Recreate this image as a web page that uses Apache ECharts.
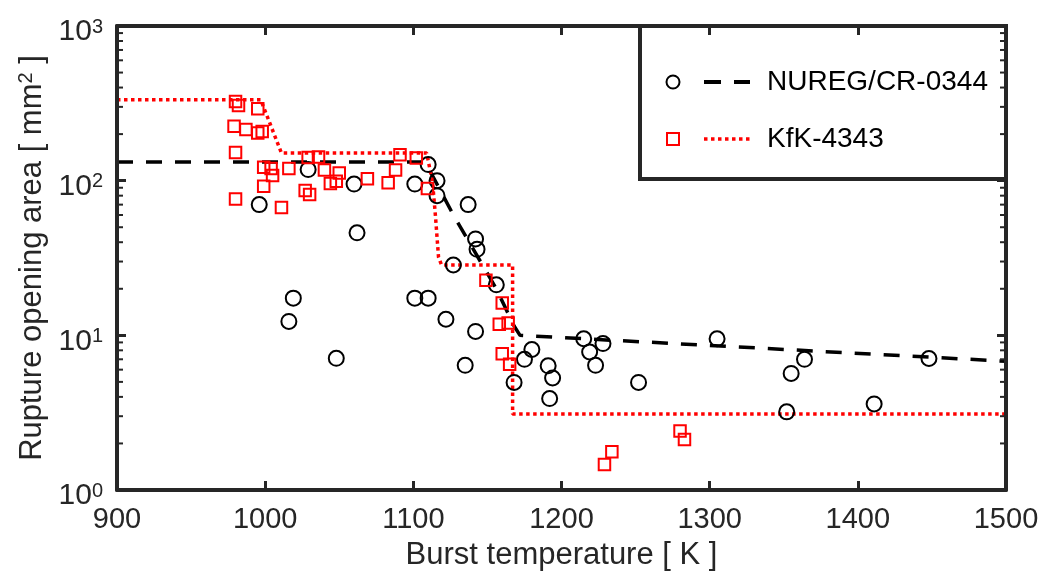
<!DOCTYPE html>
<html><head><meta charset="utf-8">
<script src="https://cdn.jsdelivr.net/npm/echarts@6/dist/echarts.min.js"></script>
<style>html,body{margin:0;padding:0;background:#fff}#c{width:1043px;height:579px}</style>
</head><body><div id="c"></div>
<script>
// ---- data ----
const nuregT    = [996,1029,1060,1062,1019,1016,1048,1101,1110,1116,1116,1101,1110,1122,1127,1137,1142,1143,1142,1135,1156,1180,1175,1168,1191,1194,1192,1215,1228,1219,1223,1252,1305,1364,1355,1352,1411,1448];
const nuregArea = [70,118,95,46,17.4,12.3,7.1,95,127,100,80,17.4,17.4,12.7,28.5,70,42,36,10.6,6.4,21.2,8.1,7.0,4.96,6.35,5.3,3.9,9.5,8.85,7.8,6.4,4.96,9.5,7.0,5.67,3.2,3.6,7.08];
const kfkT      = [980,982,995,979,987,995,998,980,999,1004,1005,1016,999,980,1011,1029,1036,1040,1027,1030,1044,1048,1050,1069,1083,1088,1091,1102,1109.5,1149,1160,1158,1164,1160,1165,1280,1283,1234,1229];
const kfkArea   = [325,306,292,225,214,203,208,152,122,120,108,120,92,76,67,141,142,117,86.5,81.5,95.7,99,112,103,97,117,147,140,89,22.7,16.2,11.8,12.0,7.6,6.5,2.41,2.12,1.77,1.46];
const nuregFitT    = [900,1108,1127,1156,1168,1172,1500];
const nuregFitArea = [132,132,60,20,11.5,10,6.8];
const kfkFitT      = [900,997,1011,1109,1113,1115,1117,1119,1167,1167,1500];
const kfkFitArea   = [333,333,151,151,97,58,32,28.5,28.5,3.1,3.1];
const xTicks = [900,1000,1100,1200,1300,1400,1500];
const yTickExponents = ['0','1','2','3'];
const minorTickValues = [2,3,4,5,6,7,8,9,20,30,40,50,60,70,80,90,200,300,400,500,600,700,800,900];
const legendNames = ['NUREG/CR-0344','KfK-4343'];
const xAxisTitle = 'Burst temperature [ K ]';
const yAxisTitleParts = ['Rupture opening area [ mm', '2', ' ]'];

const zip = (a, b) => a.map((v, i) => [v, b[i]]);
const FONT = 'Liberation Sans, Arial, Helvetica, sans-serif';
const TXT = '#262626';
const AX = '#262626';

const chart = echarts.init(document.getElementById('c'), null, {renderer: 'canvas'});
const axLine = {show: true, lineStyle: {color: AX, width: 4}};
const axTick = {show: true, inside: true, length: 9, lineStyle: {color: AX, width: 3}};

const option = {
  animation: false,
  backgroundColor: '#fff',
  grid: {left: 117, right: 37, top: 26, bottom: 89, containLabel: false},
  xAxis: [
    {type: 'value', min: xTicks[0], max: xTicks[xTicks.length - 1], interval: 100, position: 'bottom', z: 10,
     axisLine: axLine, axisTick: axTick, splitLine: {show: false},
     axisLabel: {show: true, margin: 15, color: TXT, fontFamily: FONT, fontSize: 29, lineHeight: 30,
       formatter: v => String(v)},
     name: xAxisTitle, nameLocation: 'middle', nameGap: 47,
     nameTextStyle: {color: TXT, fontFamily: FONT, fontSize: 31, lineHeight: 30}},
    {type: 'value', min: xTicks[0], max: xTicks[xTicks.length - 1], interval: 100, position: 'top', z: 10,
     axisLine: axLine, axisTick: axTick, splitLine: {show: false}, axisLabel: {show: false}}
  ],
  yAxis: [
    {type: 'log', logBase: 10, min: 1, max: 1000, position: 'left', z: 10,
     axisLine: axLine, axisTick: axTick, splitLine: {show: false},
     axisLabel: {show: true, margin: 14, color: TXT, fontFamily: FONT, fontSize: 30, padding: [12, 0, 0, 0],
       formatter: v => '{b|10}{s|' + yTickExponents[Math.round(Math.log10(v))] + '}',
       rich: {
         b: {fontSize: 30, lineHeight: 30, verticalAlign: 'bottom', fontFamily: FONT, color: TXT},
         s: {fontSize: 20, lineHeight: 10, verticalAlign: 'top', fontFamily: FONT, color: TXT}
       }},
     name: '{t|' + yAxisTitleParts[0] + '}{s|' + yAxisTitleParts[1] + '}{t|' + yAxisTitleParts[2] + '}',
     nameLocation: 'middle', nameRotate: 90, nameGap: 42,
     nameTextStyle: {color: TXT, fontFamily: FONT,
       rich: {
         t: {fontSize: 31, lineHeight: 31, verticalAlign: 'bottom', fontFamily: FONT, color: TXT},
         s: {fontSize: 20, lineHeight: 8, verticalAlign: 'top', fontFamily: FONT, color: TXT}
       }}},
    {type: 'log', logBase: 10, min: 1, max: 1000, position: 'right', z: 10,
     axisLine: axLine, axisTick: axTick, splitLine: {show: false}, axisLabel: {show: false}}
  ],
  series: [
    {name: legendNames[0] + ' fit', type: 'line', data: zip(nuregFitT, nuregFitArea), symbol: 'none',
     lineStyle: {color: '#000', width: 3.5, type: [16, 13], cap: 'butt'}, z: 3, silent: true},
    {name: legendNames[1] + ' fit', type: 'line', data: zip(kfkFitT, kfkFitArea), symbol: 'none',
     lineStyle: {color: '#ff0000', width: 3.5, type: [3.5, 3.5], cap: 'butt'}, z: 3, silent: true},
    {name: legendNames[0], type: 'scatter', data: zip(nuregT, nuregArea), symbol: 'circle', symbolSize: 15,
     itemStyle: {color: 'rgba(0,0,0,0)', borderColor: '#000', borderWidth: 2, opacity: 1}, z: 4},
    {name: legendNames[1], type: 'scatter', data: zip(kfkT, kfkArea), symbol: 'rect', symbolSize: 11.5,
     itemStyle: {color: 'rgba(0,0,0,0)', borderColor: '#ff0000', borderWidth: 2, opacity: 1}, z: 4},
    {name: 'minor ticks', type: 'custom', z: 20, silent: true, clip: false,
     data: minorTickValues.map(v => [xTicks[0], v]),
     renderItem: (params, api) => {
       const v = api.value(1);
       const pL = api.coord([xTicks[0], v]);
       const pR = api.coord([xTicks[xTicks.length - 1], v]);
       const st = {stroke: AX, lineWidth: 2};
       return {type: 'group', children: [
         {type: 'line', shape: {x1: pL[0], y1: pL[1], x2: pL[0] + 6, y2: pL[1]}, style: st},
         {type: 'line', shape: {x1: pR[0], y1: pR[1], x2: pR[0] - 6, y2: pR[1]}, style: st}
       ]};
     }}
  ],
  graphic: [
    {type: 'rect', z: 1, shape: {x: 640, y: 26, width: 366, height: 153},
     style: {fill: '#fff', stroke: AX, lineWidth: 4}},
    {type: 'circle', z: 2, shape: {cx: 673, cy: 82, r: 6.5}, style: {fill: 'none', stroke: '#000', lineWidth: 2}},
    {type: 'line', z: 2, shape: {x1: 704, y1: 82, x2: 750, y2: 82}, style: {stroke: '#000', lineWidth: 4, lineDash: [17, 13]}},
    {type: 'text', z: 2, x: 767, y: 82, style: {text: legendNames[0], font: '28px ' + FONT, fill: '#000', textVerticalAlign: 'middle', verticalAlign: 'middle'}},
    {type: 'rect', z: 2, shape: {x: 667, y: 133, width: 12, height: 12}, style: {fill: 'none', stroke: '#ff0000', lineWidth: 2}},
    {type: 'line', z: 2, shape: {x1: 704, y1: 139, x2: 750, y2: 139}, style: {stroke: '#ff0000', lineWidth: 3.5, lineDash: [3.5, 3.5]}},
    {type: 'text', z: 2, x: 767, y: 139, style: {text: legendNames[1], font: '28px ' + FONT, fill: '#000', textVerticalAlign: 'middle', verticalAlign: 'middle'}}
  ]
};
chart.setOption(option);
</script>
</body></html>
